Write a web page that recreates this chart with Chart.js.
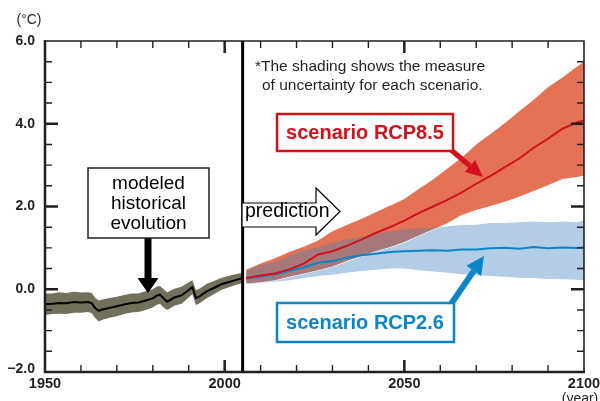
<!DOCTYPE html>
<html lang="en">
  <head>
    <meta charset="UTF-8" />
    <title>RCP scenarios</title>
    <script src="https://cdn.jsdelivr.net/npm/chart.js@4/dist/chart.umd.min.js"></script>
    <style>
      body { margin: 0; background: #fff; }
    </style>
  </head>
  <body>
    <canvas id="chart" width="600" height="401"></canvas>

    <script>
      // modeled historical evolution (°C)
      const histYears = [1950, 1952, 1954, 1956, 1958, 1960, 1962, 1963, 1964, 1965, 1966, 1968, 1970, 1972, 1974, 1976, 1978, 1980, 1981, 1982, 1983, 1984, 1986, 1988, 1990, 1991, 1992, 1993, 1995, 1997, 1999, 2001, 2003, 2005];
      const histMean = [-0.36, -0.35, -0.33, -0.34, -0.31, -0.32, -0.31, -0.34, -0.46, -0.52, -0.49, -0.45, -0.41, -0.37, -0.33, -0.32, -0.27, -0.22, -0.16, -0.13, -0.22, -0.3, -0.2, -0.15, -0.02, 0.05, -0.21, -0.17, -0.05, 0.03, 0.12, 0.17, 0.22, 0.27];
      const histHi = [-0.1, -0.1, -0.07, -0.09, -0.06, -0.08, -0.07, -0.09, -0.21, -0.27, -0.25, -0.21, -0.18, -0.14, -0.1, -0.1, -0.05, 0.0, 0.06, 0.08, 0.0, -0.07, 0.01, 0.06, 0.17, 0.22, -0.02, 0.01, 0.13, 0.2, 0.27, 0.32, 0.36, 0.4];
      const histLo = [-0.62, -0.6, -0.59, -0.6, -0.57, -0.57, -0.55, -0.58, -0.7, -0.78, -0.74, -0.69, -0.65, -0.6, -0.56, -0.55, -0.5, -0.44, -0.38, -0.35, -0.44, -0.5, -0.4, -0.35, -0.2, -0.12, -0.38, -0.34, -0.22, -0.12, -0.02, 0.04, 0.1, 0.15];

      // predictions
      const futYears = [2006, 2010, 2014, 2018, 2022, 2026, 2030, 2034, 2038, 2042, 2046, 2050, 2054, 2058, 2062, 2066, 2070, 2074, 2078, 2082, 2086, 2090, 2094, 2098, 2100];
      const rcp85Mean = [0.27, 0.33, 0.38, 0.48, 0.62, 0.84, 0.92, 1.05, 1.2, 1.36, 1.5, 1.66, 1.84, 2.0, 2.16, 2.34, 2.55, 2.74, 2.95, 3.16, 3.42, 3.64, 3.88, 4.03, 4.08];
      const rcp85Hi = [0.47, 0.62, 0.75, 0.9, 1.03, 1.18, 1.4, 1.55, 1.7, 1.86, 2.02, 2.18, 2.42, 2.65, 2.92, 3.18, 3.5, 3.75, 4.02, 4.3, 4.58, 4.88, 5.12, 5.38, 5.5];
      const rcp85Lo = [0.14, 0.17, 0.22, 0.3, 0.38, 0.46, 0.55, 0.68, 0.8, 0.92, 1.02, 1.14, 1.3, 1.45, 1.58, 1.78, 1.9, 2.0, 2.1, 2.22, 2.36, 2.5, 2.65, 2.7, 2.73];
      const rcp26Mean = [0.26, 0.3, 0.36, 0.44, 0.53, 0.64, 0.68, 0.76, 0.82, 0.86, 0.9, 0.92, 0.93, 0.94, 0.93, 0.96, 0.96, 0.99, 1.0, 0.98, 1.02, 0.99, 1.01, 1.0, 1.01];
      const rcp26Hi = [0.45, 0.58, 0.66, 0.8, 0.94, 1.02, 1.12, 1.2, 1.26, 1.33, 1.4, 1.45, 1.47, 1.48, 1.52, 1.55, 1.56, 1.6, 1.6, 1.62, 1.64, 1.62, 1.64, 1.62, 1.66];
      const rcp26Lo = [0.12, 0.15, 0.18, 0.22, 0.27, 0.32, 0.35, 0.4, 0.44, 0.47, 0.5, 0.5, 0.46, 0.43, 0.4, 0.36, 0.34, 0.32, 0.3, 0.28, 0.27, 0.25, 0.24, 0.23, 0.22];

      // axes
      const xTickValues = [1950, 2000, 2050, 2100];
      const xTickLabels = ["1950", "2000", "2050", "2100"];
      const yTickValues = [-2, 0, 2, 4, 6];
      const yTickLabels = ["\u22122.0", "0.0", "2.0", "4.0", "6.0"];
      const predictionStart = 2005;

      // where both scenario bands overlap
      const overlapLo = futYears.map((_, i) => Math.max(rcp85Lo[i], rcp26Lo[i]));
      const overlapHi = futYears.map((_, i) =>
        Math.max(overlapLo[i], Math.min(rcp85Hi[i], rcp26Hi[i]))
      );

      const pts = (xs, ys) => xs.map((x, i) => ({ x: x, y: ys[i] }));

      const FONT = "'Liberation Sans', Arial, Helvetica, sans-serif";
      const INK = "#231f20";
      const RED = "#d2111c";
      const BLUE = "#0a86c8";

      function band(data, order, extra) {
        return Object.assign(
          {
            data: data,
            order: order,
            borderWidth: 0,
            pointRadius: 0,
            tension: 0,
            fill: false,
          },
          extra || {}
        );
      }

      function drawArrow(ctx, x1, y1, x2, y2, w, headLen, headW, color) {
        const a = Math.atan2(y2 - y1, x2 - x1);
        const bx = x2 - headLen * Math.cos(a);
        const by = y2 - headLen * Math.sin(a);
        ctx.strokeStyle = color;
        ctx.fillStyle = color;
        ctx.lineWidth = w;
        ctx.lineCap = "butt";
        ctx.beginPath();
        ctx.moveTo(x1, y1);
        ctx.lineTo(bx, by);
        ctx.stroke();
        ctx.beginPath();
        ctx.moveTo(x2, y2);
        ctx.lineTo(bx + (headW / 2) * Math.sin(a), by - (headW / 2) * Math.cos(a));
        ctx.lineTo(bx - (headW / 2) * Math.sin(a), by + (headW / 2) * Math.cos(a));
        ctx.closePath();
        ctx.fill();
      }

      function labelBox(ctx, x, y, w, h, color, lineW) {
        ctx.fillStyle = "#fff";
        ctx.fillRect(x, y, w, h);
        ctx.strokeStyle = color;
        ctx.lineWidth = lineW;
        ctx.strokeRect(x, y, w, h);
      }

      // frame, ticks, labels and notes
      const decorations = {
        id: "decorations",
        afterDatasetsDraw(chart) {
          const ctx = chart.ctx;
          const xs = chart.scales.x;
          const ys = chart.scales.y;
          const a = chart.chartArea;
          ctx.save();

          // start of prediction
          const xp = xs.getPixelForValue(predictionStart);
          ctx.strokeStyle = "#000";
          ctx.lineWidth = 3;
          ctx.beginPath();
          ctx.moveTo(xp, a.top);
          ctx.lineTo(xp, a.bottom);
          ctx.stroke();

          // ticks
          ctx.strokeStyle = INK;
          for (let yr = 1960; yr < 2100; yr += 10) {
            const x = xs.getPixelForValue(yr);
            const major = yr % 50 === 0;
            const len = major ? 12 : 7;
            ctx.lineWidth = major ? 2.5 : 1.4;
            ctx.beginPath();
            ctx.moveTo(x, a.bottom);
            ctx.lineTo(x, a.bottom - len);
            ctx.moveTo(x, a.top);
            ctx.lineTo(x, a.top + len);
            ctx.stroke();
          }
          for (let v = -1.5; v < 6; v += 0.5) {
            const y = ys.getPixelForValue(v);
            const major = Math.abs(v % 2) < 1e-9;
            const len = major ? 13 : 7;
            ctx.lineWidth = major ? 2.5 : 1.4;
            ctx.beginPath();
            ctx.moveTo(a.left, y);
            ctx.lineTo(a.left + len, y);
            ctx.moveTo(a.right, y);
            ctx.lineTo(a.right - len, y);
            ctx.stroke();
          }

          // frame
          ctx.lineWidth = 1.6;
          ctx.beginPath();
          ctx.moveTo(a.left, a.top);
          ctx.lineTo(a.right, a.top);
          ctx.lineTo(a.right, a.bottom);
          ctx.stroke();
          ctx.lineWidth = 2.5;
          ctx.beginPath();
          ctx.moveTo(a.left, a.top - 1);
          ctx.lineTo(a.left, a.bottom);
          ctx.lineTo(a.right + 1, a.bottom);
          ctx.stroke();

          // tick labels
          ctx.fillStyle = INK;
          ctx.font = "bold 14px " + FONT;
          ctx.textAlign = "right";
          ctx.textBaseline = "middle";
          yTickValues.forEach((v, i) => {
            ctx.fillText(yTickLabels[i], 35, ys.getPixelForValue(v) - (v === -2 ? 3 : 0));
          });
          ctx.textAlign = "center";
          ctx.font = "bold 14.5px " + FONT;
          xTickValues.forEach((v, i) => {
            ctx.fillText(xTickLabels[i], xs.getPixelForValue(v), 384);
          });
          ctx.font = "14px " + FONT;
          ctx.fillText("(\u00b0C)", 29, 20);
          ctx.fillText("(year)", 580, 399);

          // footnote
          ctx.textAlign = "left";
          ctx.font = "15.5px " + FONT;
          ctx.fillText("*The shading shows the measure", 255, 67);
          ctx.fillText("of uncertainty for each scenario.", 262, 86);

          // modeled historical evolution
          drawArrow(ctx, 148, 238, 148, 293, 7, 15, 21, "#000");
          labelBox(ctx, 88, 168, 121, 70, INK, 1.5);
          ctx.fillStyle = "#000";
          ctx.textAlign = "center";
          ctx.font = "19px " + FONT;
          ctx.fillText("modeled", 148.5, 184);
          ctx.fillText("historical", 148.5, 204);
          ctx.fillText("evolution", 148.5, 224);

          // prediction arrow
          ctx.beginPath();
          ctx.moveTo(xp, 203);
          ctx.lineTo(316, 203);
          ctx.lineTo(316, 188);
          ctx.lineTo(340, 211.5);
          ctx.lineTo(316, 235);
          ctx.lineTo(316, 227);
          ctx.lineTo(xp, 227);
          ctx.fillStyle = "#fff";
          ctx.fill();
          ctx.strokeStyle = "#000";
          ctx.lineWidth = 1.2;
          ctx.stroke();
          ctx.fillStyle = "#000";
          ctx.textAlign = "left";
          ctx.font = "19.5px " + FONT;
          ctx.fillText("prediction", 245, 212);

          // scenario labels
          drawArrow(ctx, 450, 149, 483, 177, 5, 17, 16, RED);
          labelBox(ctx, 277, 114, 176, 37, RED, 2.5);
          ctx.fillStyle = RED;
          ctx.textAlign = "center";
          ctx.font = "bold 20px " + FONT;
          ctx.fillText("scenario RCP8.5", 365, 133);

          drawArrow(ctx, 451, 304, 484, 256, 6, 18, 18, BLUE);
          labelBox(ctx, 277, 303, 177, 39, BLUE, 2.5);
          ctx.fillStyle = BLUE;
          ctx.fillText("scenario RCP2.6", 365, 323);

          ctx.restore();
        },
      };

      new Chart(document.getElementById("chart"), {
        type: "line",
        data: {
          datasets: [
            band(pts(histYears, histLo), 10),
            band(pts(histYears, histHi), 10, { fill: "-1", backgroundColor: "#726f5b" }),
            band(pts(futYears, rcp26Lo), 9),
            band(pts(futYears, rcp26Hi), 9, { fill: "-1", backgroundColor: "#b4cde6" }),
            band(pts(futYears, rcp85Hi), 8),
            band(pts(futYears, rcp85Lo), 8, {
              fill: "-1",
              backgroundColor: "#e47254",
              borderColor: "#ffffff",
              borderWidth: 1.2,
            }),
            band(pts(futYears, overlapLo), 7),
            band(pts(futYears, overlapHi), 7, { fill: "-1", backgroundColor: "#a7787a" }),
            band(pts(futYears, rcp26Mean), 3, { borderColor: BLUE, borderWidth: 2 }),
            band(pts(futYears, rcp85Mean), 2, { borderColor: RED, borderWidth: 2 }),
            band(pts(histYears, histMean), 1, { borderColor: "#000", borderWidth: 2 }),
          ],
        },
        options: {
          responsive: false,
          animation: false,
          devicePixelRatio: 1,
          layout: { padding: { left: 45, top: 41, right: 16, bottom: 29 } },
          scales: {
            x: { type: "linear", min: 1950, max: 2100, display: false },
            y: { min: -2, max: 6, display: false },
          },
          plugins: {
            legend: { display: false },
            tooltip: { enabled: false },
          },
        },
        plugins: [decorations],
      });
    </script>
  </body>
</html>
